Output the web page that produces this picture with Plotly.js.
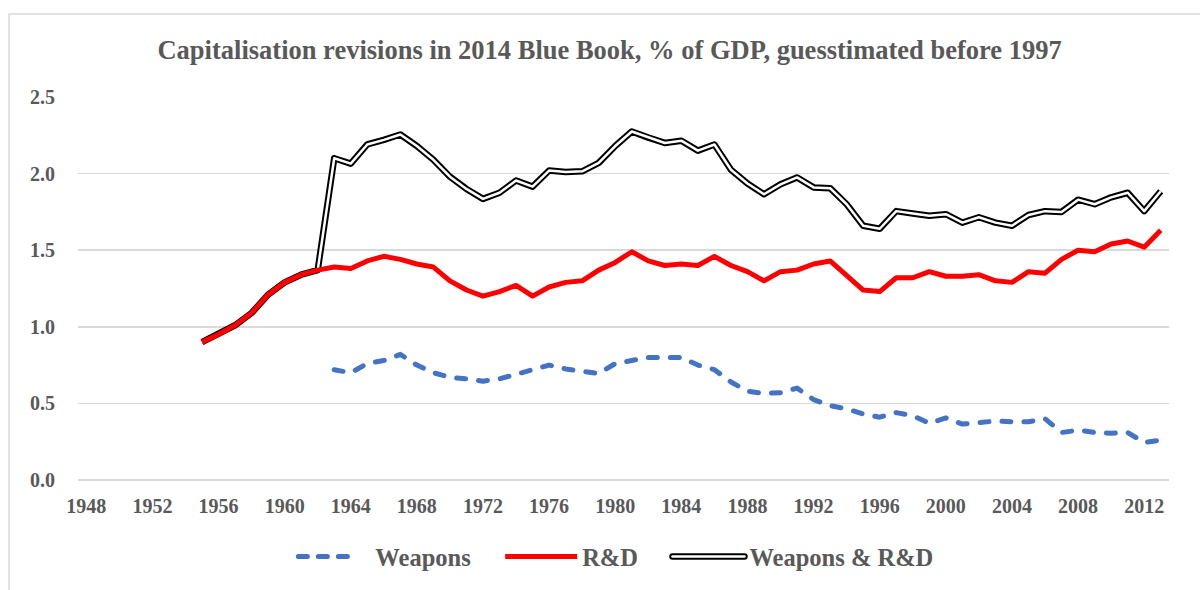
<!DOCTYPE html>
<html>
<head>
<meta charset="utf-8">
<script src="https://cdn.plot.ly/plotly-3.0.1.min.js"></script>
<style>
  html, body { margin: 0; padding: 0; background: #fff; }
  #chart { width: 1200px; height: 590px; }
  .js-line { stroke-linejoin: round; }
</style>
</head>
<body>
<div id="chart"></div>
<script>
// ---- Data ----
const weaponsYears = [1963,1964,1965,1966,1967,1968,1969,1970,1971,1972,1973,1974,1975,1976,1977,1978,1979,1980,1981,1982,1983,1984,1985,1986,1987,1988,1989,1990,1991,1992,1993,1994,1995,1996,1997,1998,1999,2000,2001,2002,2003,2004,2005,2006,2007,2008,2009,2010,2011,2012,2013];
const weaponsValues = [0.72,0.70,0.76,0.78,0.82,0.75,0.70,0.67,0.66,0.645,0.66,0.69,0.72,0.75,0.725,0.71,0.695,0.76,0.78,0.80,0.80,0.80,0.75,0.72,0.64,0.58,0.565,0.57,0.60,0.525,0.485,0.465,0.43,0.41,0.44,0.42,0.37,0.405,0.365,0.375,0.385,0.38,0.38,0.40,0.31,0.325,0.31,0.305,0.31,0.245,0.26];

const rdYears = [1955,1956,1957,1958,1959,1960,1961,1962,1963,1964,1965,1966,1967,1968,1969,1970,1971,1972,1973,1974,1975,1976,1977,1978,1979,1980,1981,1982,1983,1984,1985,1986,1987,1988,1989,1990,1991,1992,1993,1994,1995,1996,1997,1998,1999,2000,2001,2002,2003,2004,2005,2006,2007,2008,2009,2010,2011,2012,2013];
const rdValues = [0.90,0.95,1.01,1.09,1.21,1.29,1.34,1.37,1.39,1.38,1.43,1.46,1.44,1.41,1.39,1.30,1.24,1.20,1.23,1.27,1.20,1.26,1.29,1.30,1.37,1.42,1.49,1.43,1.40,1.41,1.40,1.46,1.40,1.36,1.30,1.36,1.37,1.41,1.43,1.34,1.24,1.23,1.32,1.32,1.36,1.33,1.33,1.34,1.30,1.29,1.36,1.35,1.44,1.50,1.49,1.54,1.56,1.52,1.63];

const totalYears = [1955,1956,1957,1958,1959,1960,1961,1962,1963,1964,1965,1966,1967,1968,1969,1970,1971,1972,1973,1974,1975,1976,1977,1978,1979,1980,1981,1982,1983,1984,1985,1986,1987,1988,1989,1990,1991,1992,1993,1994,1995,1996,1997,1998,1999,2000,2001,2002,2003,2004,2005,2006,2007,2008,2009,2010,2011,2012,2013];
const totalValues = [0.90,0.95,1.01,1.09,1.21,1.29,1.34,1.37,2.10,2.065,2.19,2.22,2.255,2.18,2.09,1.98,1.90,1.835,1.875,1.955,1.915,2.02,2.01,2.015,2.07,2.18,2.275,2.235,2.20,2.215,2.15,2.19,2.025,1.935,1.865,1.93,1.975,1.91,1.905,1.80,1.66,1.64,1.755,1.74,1.725,1.735,1.68,1.715,1.68,1.66,1.73,1.755,1.75,1.83,1.80,1.845,1.875,1.755,1.885];

const xTickVals = [1948,1952,1956,1960,1964,1968,1972,1976,1980,1984,1988,1992,1996,2000,2004,2008,2012];
const xTickText = ["1948","1952","1956","1960","1964","1968","1972","1976","1980","1984","1988","1992","1996","2000","2004","2008","2012"];
const yTickVals = [0, 0.5, 1.0, 1.5, 2.0, 2.5];
const yTickText = ["0.0","0.5","1.0","1.5","2.0","2.5"];

const seriesNames = ["Weapons", "R&D", "Weapons & R&D"];
const chartTitle = "Capitalisation revisions in 2014 Blue Book, % of GDP, guesstimated before 1997";

// ---- Styling ----
const FONT = "'Liberation Serif', 'Times New Roman', serif";
const GREY = "#595959";
const PAD = "\u00A0\u00A0\u00A0\u00A0"; // legend spacing between entries

const traces = [
  { // double line: black outer
    x: totalYears, y: totalValues, type: "scatter", mode: "lines",
    name: seriesNames[2], legendrank: 3,
    line: { color: "#000000", width: 6.5 },
    hoverinfo: "skip"
  },
  { // double line: white inner
    x: totalYears, y: totalValues, type: "scatter", mode: "lines",
    name: seriesNames[2], showlegend: false,
    line: { color: "#ffffff", width: 2.5 },
    hoverinfo: "skip"
  },
  {
    x: rdYears, y: rdValues, type: "scatter", mode: "lines",
    name: seriesNames[1] + PAD, legendrank: 2,
    line: { color: "#FF0000", width: 5 }
  },
  {
    x: weaponsYears, y: weaponsValues, type: "scatter", mode: "lines",
    name: seriesNames[0] + PAD, legendrank: 1,
    line: { color: "#4472C4", width: 5, dash: "9px,13px" }
  }
];

const layout = {
  width: 1200, height: 590,
  paper_bgcolor: "#ffffff", plot_bgcolor: "#ffffff",
  margin: { l: 78, r: 31, t: 97, b: 110, autoexpand: false },
  font: { family: FONT, color: GREY, size: 20, weight: "bold" },
  title: {
    text: chartTitle,
    font: { family: FONT, color: GREY, size: 26.5, weight: "bold" },
    x: 0.508, xref: "container", xanchor: "center",
    y: 1 - 50/590, yref: "container", yanchor: "middle"
  },
  showlegend: true,
  legend: {
    orientation: "h",
    x: 0.493, xanchor: "center",
    y: -0.2, yanchor: "middle",
    font: { family: FONT, color: GREY, size: 24.5, weight: "bold" },
    itemwidth: 72,
    bgcolor: "rgba(0,0,0,0)"
  },
  xaxis: {
    type: "linear",
    range: [1947.5, 2013.5],
    tickmode: "array", tickvals: xTickVals, ticktext: xTickText,
    showgrid: false, zeroline: false, showline: false,
    ticks: "", ticklabelstandoff: 12,
    tickfont: { family: FONT, color: GREY, size: 20, weight: "bold" },
    fixedrange: true
  },
  yaxis: {
    range: [0, 2.5],
    tickmode: "array", tickvals: yTickVals, ticktext: yTickText,
    showgrid: true, gridcolor: "#D9D9D9", gridwidth: 1.5,
    zeroline: true, zerolinecolor: "#D9D9D9", zerolinewidth: 1.5,
    showline: false, ticks: "", ticklabelstandoff: 22,
    tickfont: { family: FONT, color: GREY, size: 20, weight: "bold" },
    fixedrange: true
  },
  shapes: [
    { // chart-area border
      type: "rect", xref: "paper", yref: "paper",
      x0: (9 - 78) / 1091, x1: (1210 - 78) / 1091,
      y0: (480 - 600) / 383, y1: (480 - 14) / 383,
      line: { color: "#D9D9D9", width: 1.5 }, fillcolor: "rgba(0,0,0,0)",
      layer: "below"
    }
  ]
};

Plotly.newPlot("chart", traces, layout, { staticPlot: true, displayModeBar: false }).then(function (gd) {
  // round caps on the dashed weapons line (plot + legend)
  const lines = gd.querySelectorAll(".scatterlayer .trace path.js-line");
  if (lines.length >= 4) lines[3].style.strokeLinecap = "round";
  gd.querySelectorAll(".legend .traces").forEach(function (g) {
    const txt = g.querySelector("text.legendtext");
    const p = g.querySelector("path.js-line");
    if (!txt || !p) return;
    const t = txt.textContent.replace(/\u00A0/g, "").trim();
    if (t === seriesNames[0]) {
      p.style.strokeLinecap = "round";
      p.style.strokeDasharray = "9px,11px,9px,11px,9px,300px";
    }
    if (t === seriesNames[2]) {
      p.style.strokeLinecap = "round";
      const c = p.cloneNode(true);
      c.style.stroke = "#ffffff";
      c.style.strokeWidth = "2.5px";
      c.style.strokeLinecap = "round";
      p.parentNode.appendChild(c);
    }
  });
});
</script>
</body>
</html>
